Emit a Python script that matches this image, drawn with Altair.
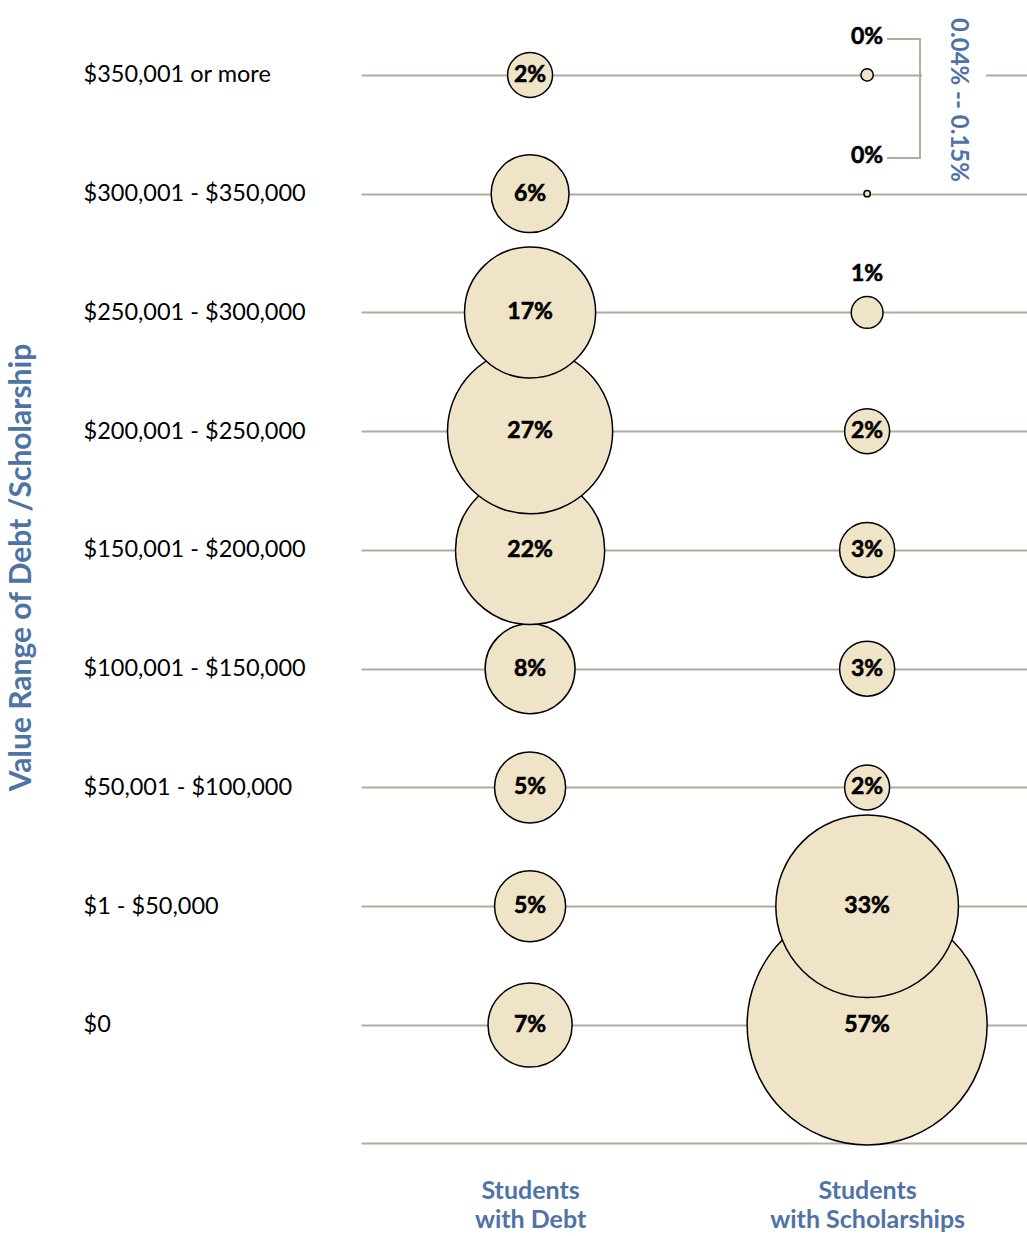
import altair as alt
import pandas as pd

categories = [
    "$350,001 or more",
    "$300,001 - $350,000",
    "$250,001 - $300,000",
    "$200,001 - $250,000",
    "$150,001 - $200,000",
    "$100,001 - $150,000",
    "$50,001 - $100,000",
    "$1 - $50,000",
    "$0",
]
debt = [2, 6, 17, 27, 22, 8, 5, 5, 7]
scholarship = [0.15, 0.04, 1, 2, 3, 3, 2, 33, 57]
groups = ["Students with Debt", "Students with Scholarships"]
annotation = "0.04%   --   0.15%"
y_title = "Value Range of Debt /Scholarship"

BLUE = "#4f73a5"
GRID = "#aeae9e"
FILL = "#f0e4c8"
FONT = "Lato"

rows = []
for i in reversed(range(len(categories))):
    for g, vals in zip(groups, [debt, scholarship]):
        v = vals[i]
        rows.append({"range": categories[i], "group": g, "pct": v,
                     "label": f"{round(v)}%"})
df = pd.DataFrame(rows)

xscale = alt.Scale(type="point", domain=groups, padding=0.488, align=0.514)
yscale = alt.Scale(type="point", domain=categories, padding=0.7916, align=0.372)

xaxis = alt.Axis(domain=True, domainColor=GRID, domainWidth=2, ticks=False, grid=False,
                 labelExpr="datum.value == 'Students with Debt' ? ['Students', 'with Debt'] : ['Students', 'with Scholarships']",
                 labelFont=FONT, labelFontSize=25, labelFontWeight="bold", labelColor=BLUE,
                 labelPadding=35, labelLineHeight=29, labelAngle=0, labelBaseline="top",
                 labelLimit=400)
yaxis = alt.Axis(domain=False, ticks=False, grid=True, gridColor=GRID, gridWidth=2,
                 labelAlign="left", labelPadding=278, labelFont=FONT, labelFontSize=23.5,
                 labelColor="black", labelLimit=400, labelBaseline="middle",
                 titleFont=FONT, titleFontSize=30, titleFontWeight="bold", titleColor=BLUE,
                 titleX=-325, titleY=562, titleAngle=270, titleAlign="center",
                 titleBaseline="bottom")

base = alt.Chart(df).encode(
    x=alt.X("group:N", scale=xscale, axis=xaxis, title=None),
    y=alt.Y("range:N", scale=yscale, axis=yaxis, title=y_title),
)

circles = base.mark_circle(fill=FILL, stroke="black", strokeWidth=1.5, opacity=1,
                           fillOpacity=1).encode(
    size=alt.Size("pct:Q", scale=alt.Scale(domain=[0, 57], range=[0, 57600]), legend=None)
)

text_big = base.transform_filter("datum.pct >= 1.5").mark_text(
    font=FONT, fontWeight="bold", fontSize=23, color="black", stroke="black", strokeWidth=0.6
).encode(text="label:N")
text_small = base.transform_filter("datum.pct < 1.5").mark_text(
    font=FONT, fontWeight="bold", fontSize=23, color="black", stroke="black", strokeWidth=0.6,
    dy=-38
).encode(text="label:N")

one = pd.DataFrame({"k": [0]})
gap = alt.Chart(one).mark_rect(fill="white").encode(
    x=alt.value(561), x2=alt.value(625), y=alt.value(3), y2=alt.value(185))
br1 = alt.Chart(one).mark_rule(color=GRID, strokeWidth=2).encode(
    x=alt.value(526), x2=alt.value(559), y=alt.value(34))
br2 = alt.Chart(one).mark_rule(color=GRID, strokeWidth=2).encode(
    x=alt.value(526), x2=alt.value(559), y=alt.value(153))
br3 = alt.Chart(one).mark_rule(color=GRID, strokeWidth=2).encode(
    x=alt.value(559), y=alt.value(33), y2=alt.value(154))
ann = alt.Chart(one).mark_text(text=annotation, angle=90, font=FONT, fontWeight="bold",
                               fontSize=24, color=BLUE, align="center",
                               baseline="middle").encode(x=alt.value(597), y=alt.value(95))

chart = alt.layer(gap, br1, br2, br3, circles, text_big, text_small, ann).properties(
    width=666, height=1138,
    autosize=alt.AutoSizeParams(type="none"),
    padding={"left": 361, "top": 5, "right": 0, "bottom": 93},
).configure_view(stroke=None)

chart.save("out.html", embed_options={"renderer": "svg", "actions": False})
